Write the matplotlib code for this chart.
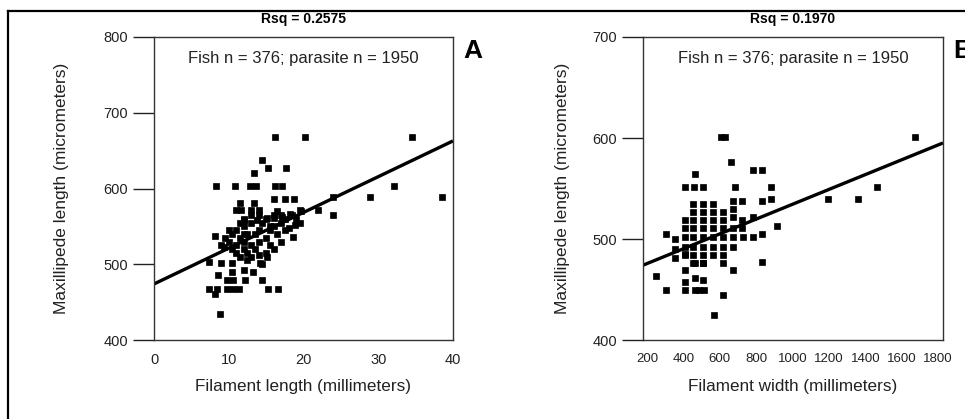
import matplotlib
matplotlib.use("Agg")
from matplotlib import pyplot as plt
from matplotlib.lines import Line2D

plt.rcParams["font.family"] = ["Liberation Sans", "DejaVu Sans"]

# Panel A: filament length (mm) vs maxillipede length (um)
len_x = [16.2, 20.2, 34.5, 14.5, 15.3, 17.6, 13.4, 8.3, 10.8, 12.8, 13.6, 16.2, 17.1, 32.1,
         16.0, 17.5, 18.7, 23.9, 28.9, 38.5, 11.5, 13.4, 11.0, 11.7, 13.0, 14.0, 22.0, 23.9,
         18.8, 19.6, 8.2, 18.6, 9.3, 15.1, 7.3, 9.0, 10.5, 14.2, 12.0, 13.3, 10.4, 8.6, 14.4,
         9.7, 10.6, 12.2, 7.3, 8.4, 9.7, 10.6, 11.4, 15.3, 16.6, 8.2, 8.8,
         9.5, 10.0, 10.5, 11.0, 11.0, 11.5, 12.0, 12.0, 12.0, 12.5, 12.5, 13.0, 13.0, 13.5,
         13.5, 14.0, 14.0, 14.0, 14.5, 15.0, 15.0, 15.5, 15.5, 16.0, 16.0, 16.5, 17.0, 17.0,
         17.5, 18.0, 18.5, 19.0, 19.5, 11.0, 10.5, 12.5, 13.0, 14.5, 16.0, 13.0, 12.0, 11.5,
         15.0, 17.5, 14.0, 16.5, 10.0, 9.0, 11.5, 12.0, 15.5, 17.0,
         12.0, 13.8, 15.1, 16.1, 17.1, 18.2, 19.5]
len_y = [668, 668, 668, 637, 627, 627, 621, 603, 603, 603, 603, 603, 603, 603,
         586, 586, 586, 589, 589, 589, 581, 581, 571, 571, 571, 571, 571, 565,
         552, 570, 537, 536, 523, 509, 503, 502, 502, 502, 493, 490, 490, 486, 479,
         479, 479, 479, 468, 468, 468, 468, 468, 468, 468, 461, 435,
         535, 530, 540, 525, 545, 535, 520, 550, 530, 540, 515, 525, 555, 540,
         520, 545, 530, 512, 555, 535, 560, 545, 525, 550, 565, 540, 555, 530,
         560, 548, 565, 560, 555, 515, 520, 505, 510, 500, 520, 565, 560, 555,
         515, 545, 565, 570, 545, 525, 510, 540, 550, 565,
         558, 558, 561, 561, 563, 567, 572]

# Panel B: filament width vs maxillipede length (um)
wid_x = [605, 629, 1673, 660, 464, 781, 832, 409, 458, 510, 684, 880, 1463, 1197, 1358,
         674, 720, 830, 880, 913, 785, 730, 785, 830, 304, 354, 354, 409, 830, 671, 249,
         304, 409, 409, 409, 464, 510, 464, 488, 514, 619, 568, 464, 510, 354,
         409, 409, 409, 409, 409,
         455, 455, 455, 455, 455, 455, 455, 455,
         510, 510, 510, 510, 510, 510, 510, 510,
         565, 565, 565, 565, 565, 565, 565,
         620, 620, 620, 620, 620, 620, 620,
         675, 675, 675, 675, 675,
         720, 720]
wid_y = [601, 601, 601, 576, 564, 568, 568, 551, 551, 551, 551, 551, 551, 540, 540,
         538, 538, 538, 540, 513, 522, 502, 502, 505, 505, 500, 490, 485, 477, 469, 463,
         450, 469, 457, 450, 461, 459, 450, 450, 450, 445, 425, 476, 476, 481,
         519, 511, 502, 492, 484,
         535, 527, 519, 511, 502, 492, 484, 476,
         535, 527, 519, 511, 502, 492, 484, 476,
         535, 527, 519, 511, 502, 492, 484,
         527, 519, 511, 502, 492, 484, 476,
         530, 522, 511, 502, 492,
         519, 511]

# fitted lines (intercept, slope)
fit_a = (474, 4.72)
fit_b = (461, 0.0734)

titles = ["Rsq = 0.2575", "Rsq = 0.1970"]
panel_tags = ["A", "B"]
note = "Fish n = 376; parasite n = 1950"
ylabel = "Maxillipede length (micrometers)"
xlabels = ["Filament length (millimeters)", "Filament width (millimeters)"]

fig = plt.figure(figsize=(9.65, 4.19), dpi=100)
axA = fig.add_axes([0.1596, 0.1885, 0.3098, 0.7232])
axB = fig.add_axes([0.6663, 0.1885, 0.3109, 0.7232])

# outer frame (cut off at right and bottom)
fig.add_artist(Line2D([0.0083, 1.0], [0.9737, 0.9737], color="black", lw=1.6))
fig.add_artist(Line2D([0.0083, 0.0083], [0.0, 0.9737], color="black", lw=1.6))

panels = [
    (axA, len_x, len_y, fit_a, (0, 40), [0, 10, 20, 30, 40], (400, 800), [400, 500, 600, 700, 800], 10.5, -0.311),
    (axB, wid_x, wid_y, fit_b, (178, 1827), [200, 400, 600, 800, 1000, 1200, 1400, 1600, 1800], (400, 700), [400, 500, 600, 700], 9.5, -0.267),
]

for i, (ax, xs, ys, fit, xlim, xt, ylim, yt, xfs, ylx) in enumerate(panels):
    ax.plot(xs, ys, "s", color="black", ms=4.2, mec="black", mew=0.5)
    ax.plot(list(xlim), [fit[0] + fit[1] * xlim[0], fit[0] + fit[1] * xlim[1]],
            color="black", lw=2.4, solid_capstyle="butt")
    ax.set_xlim(xlim)
    ax.set_ylim(ylim)
    ax.set_xticks(xt)
    ax.set_yticks(yt)
    ax.tick_params(axis="x", length=0, pad=9, labelsize=xfs, colors="#222222")
    ax.tick_params(axis="y", length=15, width=1.0, pad=3.5, labelsize=10.5, colors="#222222")
    for s in ax.spines.values():
        s.set_linewidth(1.0)
        s.set_color("#333333")
    ax.set_title(titles[i], fontsize=10, fontweight="bold", pad=10)
    ax.text(0.5, 0.93, note, transform=ax.transAxes, ha="center", va="center", fontsize=12, color="#222222")
    ax.text(1.065, 0.955, panel_tags[i], transform=ax.transAxes, ha="center", va="center",
            fontsize=19, fontweight="bold")
    ax.set_xlabel(xlabels[i], fontsize=12.3, va="center", color="#222222")
    ax.xaxis.set_label_coords(0.5, -0.152)
    ax.set_ylabel(ylabel, fontsize=12.5, va="center", color="#222222")
    ax.yaxis.set_label_coords(ylx, 0.5)

fig.savefig("out.png", dpi=100)
